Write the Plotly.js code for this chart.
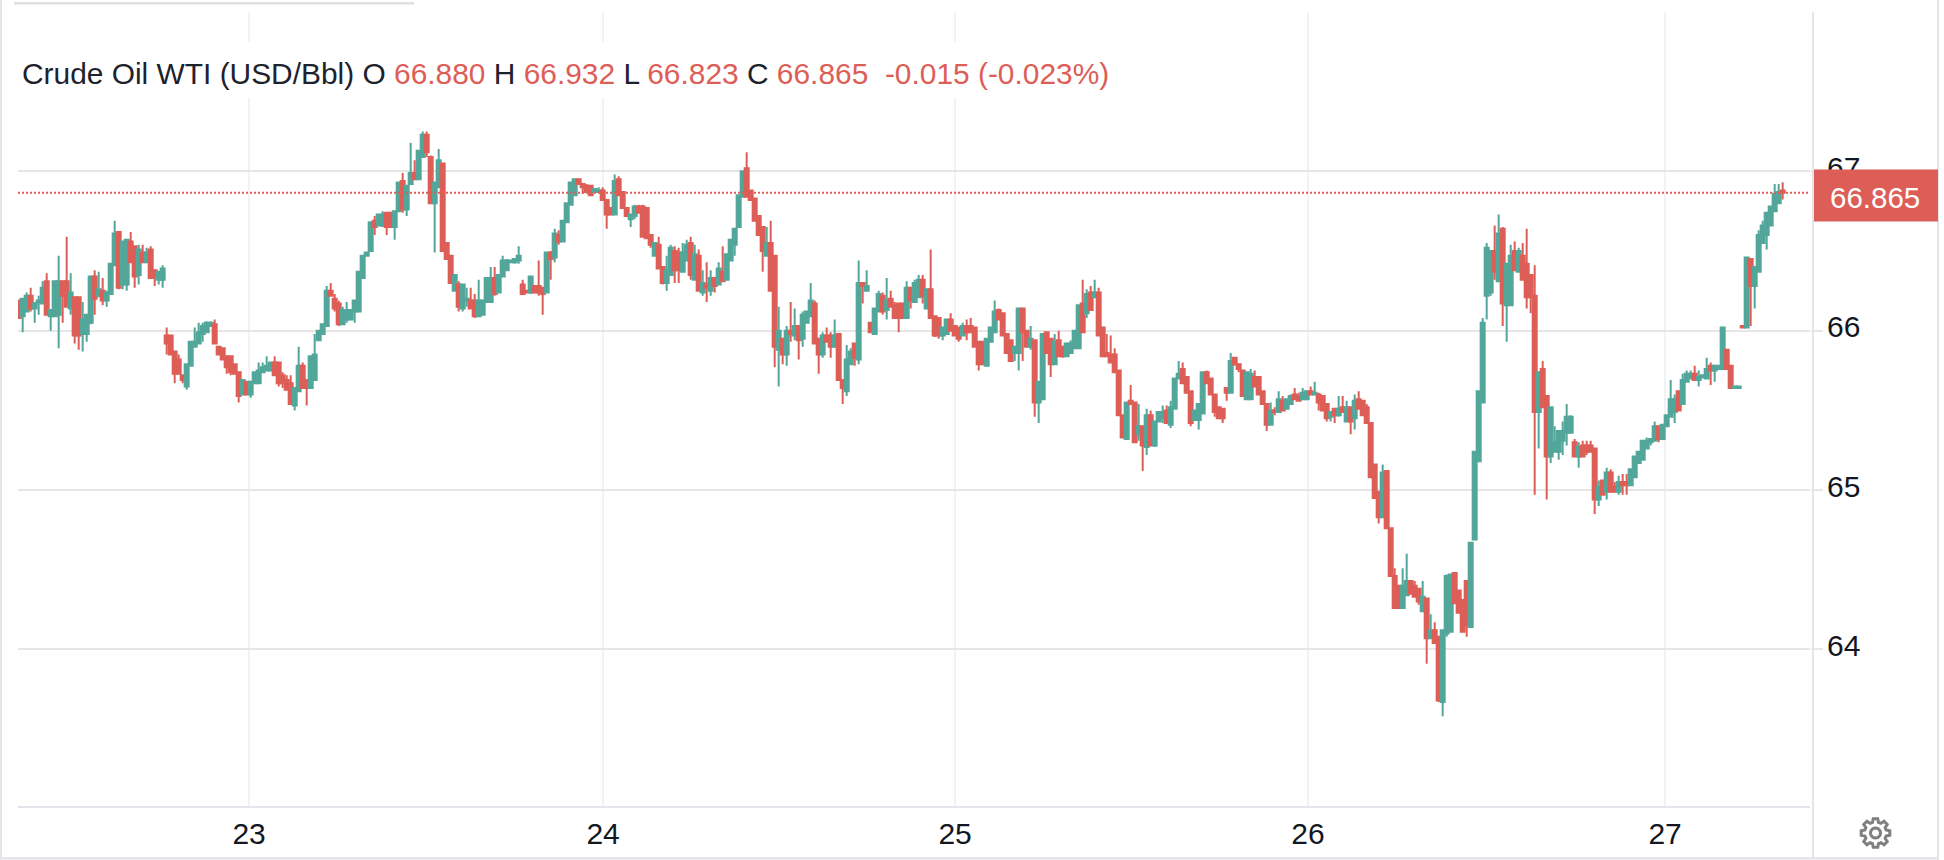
<!DOCTYPE html>
<html>
<head>
<meta charset="utf-8">
<title>Crude Oil WTI (USD/Bbl)</title>
<script src="https://cdn.plot.ly/plotly-3.0.1.min.js"></script>
<style>html,body{margin:0;padding:0;background:#fff;overflow:hidden}#chart{width:1944px;height:860px}</style>
</head>
<body>
<div id="chart"></div>
<script>
const opens = [
66.19,66.09,66.12,66.22,66.14,66.18,66.17,66.31,66.09,66.09,
66.10,66.31,66.31,66.14,66.21,66.21,65.98,65.98,66.05,66.34,
66.22,66.25,66.19,66.23,66.41,66.62,66.29,66.29,66.56,66.53,
66.35,66.49,66.43,66.51,66.38,66.32,66.32,65.97,65.97,65.87,
65.82,65.72,65.65,65.78,65.90,65.92,65.98,65.99,66.03,66.04,
65.90,65.89,65.84,65.84,65.79,65.74,65.60,65.68,65.60,65.67,
65.67,65.74,65.75,65.75,65.80,65.80,65.72,65.69,65.67,65.53,
65.62,65.78,65.69,65.64,65.69,
65.94,65.98,66.03,66.25,66.20,66.17,66.04,66.07,66.07,66.12,
66.12,66.33,66.47,66.50,66.69,66.66,66.66,66.74,66.74,66.65,
66.75,66.94,66.76,66.92,66.99,66.95,67.09,67.23,67.09,66.80,
66.90,67.05,66.55,66.47,66.25,66.29,66.14,66.19,66.19,66.19,
66.09,66.10,66.18,66.18,66.33,66.24,66.34,66.38,66.43,66.43,
66.44,66.29,66.25,66.24,66.28,66.28,66.27,66.24,66.49,66.46,
66.60,66.56,66.68,66.79,66.85,66.95,66.92,66.91,66.91,66.87,
66.87,66.88,66.82,66.77,66.73,
66.95,66.87,66.77,66.70,66.72,66.78,66.78,66.77,66.60,66.47,
66.54,66.40,66.30,66.35,66.50,66.49,66.37,66.44,66.55,66.32,
66.47,66.24,66.29,66.25,66.33,66.29,66.37,66.32,66.44,
66.54,66.65,66.84,67.02,66.88,66.83,66.72,66.65,66.47,
66.55,66.47,65.88,65.95,65.85,66.00,65.97,66.03,65.95,66.05,66.09,
66.17,65.95,65.85,65.97,65.97,65.90,65.98,65.69,65.62,65.79,
65.92,65.82,66.30,66.25,66.05,65.98,66.12,66.22,66.13,66.20,66.16,
66.17,66.17,66.08,66.27,66.18,
66.21,66.32,66.14,66.26,66.09,66.08,65.97,65.98,66.07,66.03,
66.02,65.97,66.03,66.03,66.02,65.93,65.93,65.78,65.93,65.99,
66.13,66.11,65.98,65.94,65.86,65.86,66.14,66.00,65.90,65.94,
65.55,65.57,65.99,65.95,65.79,65.94,65.90,65.84,65.86,65.89,
65.89,66.17,66.11,66.24,66.21,66.24,66.02,65.86,65.85,65.85,
65.75,65.47,65.32,65.56,65.55,65.35,65.40,65.27,65.47,65.28,
65.43,65.45,65.50,65.41,65.51,65.70,65.76,65.71,65.62,65.44,
65.44,65.48,65.74,65.70,65.60,
65.52,65.51,65.64,65.61,65.83,65.79,65.75,65.57,65.57,65.71,
65.71,65.62,65.54,65.41,65.50,65.49,65.56,65.51,65.54,65.60,
65.59,65.57,65.57,65.62,65.60,65.60,65.59,65.54,65.46,65.51,
65.47,65.52,65.43,65.52,65.45,65.57,65.56,65.52,65.42,65.16,
64.99,64.83,65.12,64.76,64.46,64.40,64.26,64.34,64.43,64.40,
64.38,64.24,64.32,64.07,64.12,64.08,63.67,64.10,64.11,64.48,
64.37,64.31,64.43,64.14,64.69,65.18,65.55,66.22,66.24,66.50,
66.31,66.64,66.16,66.16,66.50,
66.37,66.47,66.42,66.35,66.22,65.49,65.76,65.59,65.21,65.24,
65.24,65.31,65.36,65.36,65.30,65.21,65.28,65.28,65.28,65.26,
64.94,65.06,64.99,65.11,65.02,64.99,65.05,65.05,65.03,65.08,
65.17,65.19,65.26,65.30,65.31,65.40,65.32,65.40,65.46,65.49,
65.62,65.54,65.68,65.70,65.73,65.69,65.71,65.70,65.78,65.75,
65.76,65.76,65.88,65.78,65.64,65.64,66.03,66.02,66.45,66.28,
66.37,66.55,66.60,66.66,66.75,66.80,66.880];

const highs = [
66.19,66.20,66.24,66.27,66.18,66.22,66.31,66.36,66.13,66.31,
66.47,66.31,66.59,66.36,66.21,66.21,66.18,66.10,66.34,66.38,
66.37,66.33,66.25,66.42,66.69,66.62,66.56,66.57,66.62,66.53,
66.54,66.54,66.52,66.53,66.38,66.37,66.41,66.02,65.97,65.87,
65.85,65.72,65.79,65.93,66.02,66.05,66.05,66.06,66.06,66.07,
65.90,65.89,65.84,65.84,65.79,65.74,65.69,65.68,65.68,65.74,
65.80,65.80,65.84,65.80,65.84,65.80,65.74,65.72,65.72,65.64,
65.90,65.80,65.69,65.84,65.98,
66.00,66.04,66.28,66.30,66.23,66.19,66.15,66.18,66.13,66.19,
66.37,66.47,66.49,66.68,66.72,66.73,66.75,66.74,66.74,66.75,
66.93,66.99,66.91,67.18,67.07,67.13,67.25,67.25,67.10,66.93,
67.14,67.05,66.55,66.47,66.35,66.31,66.29,66.27,66.27,66.23,
66.32,66.19,66.33,66.40,66.40,66.35,66.47,66.45,66.44,66.45,
66.53,66.32,66.25,66.34,66.28,66.44,66.27,66.49,66.50,66.64,
66.63,66.69,66.80,66.93,66.95,66.95,66.92,66.92,66.91,66.89,
66.90,66.90,66.82,66.77,66.98,
66.97,66.87,66.77,66.73,66.79,66.79,66.79,66.77,66.60,66.55,
66.59,66.40,66.47,66.54,66.53,66.52,66.55,66.57,66.59,66.54,
66.51,66.38,66.43,66.38,66.33,66.43,66.53,66.48,66.57,
66.64,66.85,67.00,67.12,66.88,66.83,66.72,66.65,66.65,
66.69,66.47,66.15,65.95,66.03,66.18,66.14,66.03,66.12,66.12,66.30,
66.19,65.95,65.99,66.02,65.99,66.07,65.98,65.69,65.91,65.89,
65.92,66.44,66.30,66.38,66.05,66.14,66.25,66.24,66.33,66.25,66.18,
66.17,66.17,66.31,66.27,66.32,
66.35,66.35,66.26,66.51,66.09,66.08,66.02,66.07,66.11,66.03,
66.02,66.05,66.07,66.08,66.02,65.93,65.93,65.95,66.02,66.19,
66.14,66.11,65.98,65.94,65.90,66.14,66.14,66.00,66.03,65.94,
65.68,65.98,65.99,65.95,65.98,66.00,65.90,65.92,65.94,66.00,
66.16,66.32,66.26,66.28,66.32,66.27,66.02,65.98,65.97,65.89,
65.75,65.47,65.55,65.66,65.55,65.54,65.40,65.51,65.50,65.43,
65.49,65.53,65.53,65.56,65.70,65.81,65.80,65.71,65.62,65.50,
65.54,65.74,65.75,65.70,65.60,
65.52,65.51,65.64,65.86,65.83,65.79,65.75,65.74,65.76,65.75,
65.71,65.62,65.54,65.55,65.52,65.62,65.59,65.57,65.60,65.64,
65.61,65.64,65.62,65.65,65.68,65.61,65.59,65.54,65.49,65.51,
65.59,65.59,65.56,65.52,65.60,65.62,65.56,65.54,65.42,65.16,
64.99,65.16,65.12,64.76,64.51,64.40,64.51,64.60,64.43,64.43,
64.38,64.43,64.32,64.22,64.17,64.08,64.12,64.47,64.47,64.48,
64.37,64.31,64.43,64.67,65.24,65.62,66.08,66.55,66.50,66.66,
66.73,66.65,66.42,66.54,66.56,
66.52,66.55,66.64,66.35,66.41,65.74,65.81,65.59,65.52,65.40,
65.37,65.43,65.54,65.47,65.32,65.30,65.31,65.31,65.31,65.26,
65.06,65.06,65.14,65.13,65.05,65.09,65.10,65.10,65.13,65.21,
65.24,65.31,65.33,65.32,65.43,65.40,65.41,65.47,65.69,65.60,
65.62,65.73,65.75,65.75,65.78,65.75,65.72,65.83,65.80,65.78,
65.78,66.02,65.88,65.78,65.65,65.65,66.03,66.46,66.45,66.40,
66.63,66.69,66.74,66.78,66.92,66.92,66.932];

const lows = [
66.08,65.99,66.12,66.12,66.05,66.10,66.17,66.10,66.00,66.09,
65.89,66.05,66.15,66.10,65.92,65.88,65.87,65.93,66.04,66.10,
66.21,66.16,66.15,66.23,66.41,66.26,66.26,66.25,66.43,66.27,
66.29,66.43,66.43,66.33,66.28,66.29,66.27,65.85,65.85,65.67,
65.73,65.67,65.63,65.78,65.90,65.92,65.93,65.99,66.03,65.92,
65.85,65.82,65.73,65.72,65.73,65.55,65.60,65.60,65.58,65.67,
65.67,65.74,65.75,65.75,65.72,65.65,65.64,65.63,65.54,65.50,
65.62,65.64,65.53,65.64,65.69,
65.94,65.98,66.03,66.22,66.12,66.03,66.04,66.05,66.07,66.05,
66.12,66.33,66.47,66.50,66.60,66.66,66.65,66.60,66.65,66.57,
66.75,66.74,66.72,66.92,66.95,66.95,67.09,67.09,66.80,66.49,
66.90,66.50,66.45,66.30,66.25,66.12,66.12,66.15,66.14,66.08,
66.09,66.10,66.18,66.18,66.22,66.24,66.34,66.38,66.43,66.42,
66.42,66.23,66.24,66.23,66.24,66.22,66.10,66.24,66.32,66.43,
66.54,66.56,66.68,66.79,66.85,66.92,66.86,66.87,66.85,66.87,
66.87,66.82,66.64,66.73,66.73,
66.85,66.77,66.72,66.65,66.70,66.74,66.59,66.58,66.52,66.47,
66.39,66.29,66.25,66.35,66.30,66.30,66.37,66.44,66.32,66.32,
66.25,66.22,66.18,66.22,66.24,66.29,66.31,66.32,66.44,
66.47,66.65,66.84,66.84,66.82,66.69,66.60,66.37,66.47,
66.25,65.77,65.65,65.79,65.78,65.93,65.94,65.82,65.90,66.05,66.09,
65.92,65.73,65.83,65.93,65.83,65.90,65.69,65.54,65.59,65.79,
65.78,65.79,66.17,66.25,65.99,65.98,66.12,66.10,66.07,66.15,66.08,
65.99,66.08,66.08,66.14,66.18,
66.21,66.17,66.14,66.08,65.96,65.95,65.94,65.98,66.00,65.97,
65.93,65.97,65.94,65.99,65.90,65.75,65.79,65.78,65.93,65.99,
66.07,65.97,65.86,65.81,65.81,65.75,65.81,65.90,65.88,65.46,
65.42,65.57,65.86,65.71,65.79,65.84,65.83,65.84,65.86,65.89,
65.89,65.99,66.08,66.13,66.21,65.97,65.84,65.84,65.80,65.74,
65.47,65.33,65.32,65.54,65.30,65.31,65.12,65.22,65.28,65.27,
65.43,65.42,65.42,65.39,65.51,65.70,65.67,65.61,65.40,65.44,
65.38,65.48,65.67,65.60,65.46,
65.45,65.42,65.56,65.61,65.78,65.74,65.59,65.57,65.57,65.65,
65.60,65.54,65.37,65.41,65.47,65.49,65.50,65.51,65.54,65.57,
65.56,65.57,65.57,65.60,65.60,65.50,65.50,65.43,65.43,65.42,
65.46,65.49,65.43,65.35,65.38,65.51,65.47,65.42,65.08,64.95,
64.79,64.83,64.76,64.46,64.26,64.26,64.26,64.34,64.35,64.33,
64.28,64.24,63.91,64.07,64.04,63.67,63.58,64.08,64.11,64.29,
64.23,64.11,64.08,64.14,64.69,65.18,65.55,66.07,66.22,66.32,
66.31,66.03,65.93,66.16,66.38,
66.37,66.32,66.14,66.11,64.97,65.26,65.52,64.94,65.17,65.24,
65.19,65.22,65.28,65.36,65.21,65.14,65.21,65.22,65.24,64.85,
64.90,64.97,64.94,64.99,64.99,64.97,64.97,64.97,65.03,65.08,
65.17,65.19,65.26,65.28,65.31,65.30,65.32,65.40,65.46,65.42,
65.50,65.54,65.68,65.70,65.69,65.65,65.70,65.70,65.66,65.68,
65.76,65.76,65.76,65.64,65.64,65.64,66.02,66.02,66.03,66.14,
66.37,66.55,66.51,66.66,66.75,66.80,66.823];

const closes = [
66.08,66.20,66.22,66.14,66.17,66.19,66.27,66.10,66.13,66.31,
66.31,66.22,66.15,66.24,65.97,65.97,66.07,66.10,66.34,66.20,
66.26,66.19,66.24,66.42,66.61,66.27,66.56,66.57,66.43,66.34,
66.51,66.43,66.49,66.33,66.33,66.37,66.39,65.92,65.85,65.73,
65.73,65.69,65.79,65.93,65.93,65.99,66.03,66.05,66.05,65.92,
65.85,65.82,65.77,65.74,65.73,65.59,65.69,65.60,65.68,65.74,
65.75,65.77,65.78,65.80,65.72,65.67,65.67,65.63,65.54,65.64,
65.78,65.64,65.64,65.84,65.85,
66.00,66.04,66.25,66.22,66.14,66.04,66.13,66.13,66.13,66.19,
66.37,66.47,66.49,66.68,66.65,66.73,66.73,66.65,66.65,66.75,
66.93,66.76,66.91,66.99,66.95,67.13,67.23,67.12,66.80,66.93,
67.07,66.50,66.45,66.30,66.35,66.15,66.29,66.20,66.14,66.09,
66.19,66.19,66.33,66.33,66.23,66.35,66.44,66.44,66.44,66.45,
66.47,66.23,66.24,66.34,66.24,66.24,66.23,66.49,66.45,66.61,
66.56,66.69,66.80,66.93,66.95,66.92,66.90,66.87,66.85,66.89,
66.88,66.82,66.73,66.73,66.94,
66.85,66.77,66.72,66.73,66.78,66.74,66.59,66.58,66.54,66.55,
66.39,66.30,66.38,66.52,66.38,66.38,66.49,66.54,66.35,66.48,
66.25,66.30,66.27,66.33,66.28,66.39,66.31,66.48,66.57,
66.64,66.85,67.00,66.84,66.82,66.69,66.60,66.50,66.55,
66.25,65.90,66.00,65.85,66.00,65.98,66.03,65.94,66.10,66.12,66.19,
65.92,65.85,65.97,65.93,65.90,65.97,65.69,65.64,65.82,65.87,
65.83,66.30,66.28,66.28,65.99,66.14,66.23,66.12,66.19,66.15,66.08,
66.08,66.08,66.27,66.19,66.30,
66.32,66.22,66.26,66.08,65.97,65.97,66.02,66.07,66.00,65.97,
65.95,66.03,65.99,65.99,65.90,65.79,65.79,65.95,66.02,66.12,
66.07,65.97,65.86,65.81,65.90,66.14,65.99,65.90,65.95,65.55,
65.68,65.98,65.86,65.79,65.93,65.84,65.84,65.92,65.92,66.00,
66.16,65.99,66.23,66.13,66.24,65.97,65.84,65.84,65.80,65.74,
65.47,65.33,65.55,65.54,65.30,65.40,65.28,65.47,65.28,65.43,
65.49,65.49,65.42,65.52,65.70,65.73,65.67,65.61,65.42,65.50,
65.54,65.74,65.67,65.60,65.49,
65.45,65.45,65.61,65.81,65.79,65.76,65.59,65.74,65.73,65.65,
65.60,65.54,65.41,65.50,65.49,65.57,65.50,65.57,65.59,65.57,
65.56,65.61,65.62,65.60,65.61,65.55,65.50,65.45,65.49,65.47,
65.51,65.49,65.52,65.43,65.56,65.51,65.47,65.42,65.08,64.95,
64.83,65.11,64.76,64.46,64.26,64.26,64.40,64.43,64.35,64.33,
64.30,64.33,64.07,64.12,64.04,63.68,64.12,64.46,64.47,64.29,
64.23,64.11,64.15,64.67,65.24,65.62,66.05,66.52,66.50,66.37,
66.61,66.17,66.42,66.47,66.38,
66.50,66.32,66.21,66.21,65.49,65.74,65.52,65.21,65.52,65.30,
65.37,65.37,65.46,65.46,65.21,65.27,65.21,65.24,65.24,64.94,
65.02,64.97,65.11,64.99,64.99,65.05,65.03,65.03,65.13,65.21,
65.24,65.31,65.31,65.32,65.40,65.32,65.41,65.47,65.57,65.57,
65.50,65.69,65.73,65.73,65.69,65.71,65.72,65.76,65.75,65.78,
65.78,66.02,65.76,65.64,65.65,65.65,66.02,66.46,66.28,66.40,
66.60,66.66,66.74,66.78,66.86,66.87,66.865];

const dayTickSlots = [57.6, 146.1, 234.1, 322.3, 411.6];
const dayTickLabels = ['23', '24', '25', '26', '27'];
const priceTicks = [64, 65, 66, 67];
const lastPrice = 66.865;
const legendName = 'Crude Oil WTI (USD/Bbl)';
const legendValues = {O: '66.880', H: '66.932', L: '66.823', C: '66.865'};
const legendChange = '-0.015 (-0.023%)';

const UP = '#53a69a', DOWN = '#dd5e57', GRID_H = '#e6e6e6', GRID_V = '#eff3f6', FRAME = '#e4e4ea', INK = '#1e222d';
const W = 1944, H = 860, L = 18, R = 1810, T = 12, B = 807;
const px = X => (X - L) / (R - L), py = Y => (B - Y) / (B - T);
const slots = opens.map((_, i) => i);

// settings cog (interface decoration, not data)
function gearPath(rOut, rIn, teeth) {
  let d = '';
  const step = 2 * Math.PI / teeth;
  for (let i = 0; i < teeth; i++) {
    const a = i * step - step / 2;
    const pts = [[rIn, a + step * 0.15], [rOut, a + step * 0.3], [rOut, a + step * 0.7], [rIn, a + step * 0.85]];
    pts.forEach((p, j) => {
      const x = (p[0] * Math.cos(p[1])).toFixed(2), y = (p[0] * Math.sin(p[1])).toFixed(2);
      d += (i === 0 && j === 0 ? 'M' : 'L') + x + ' ' + y + ' ';
    });
  }
  return d + 'Z';
}
function circlePath(r) {
  let d = '';
  for (let i = 0; i < 24; i++) {
    const a = i * Math.PI / 12;
    d += (i ? 'L' : 'M') + (r * Math.cos(a)).toFixed(2) + ' ' + (r * Math.sin(a)).toFixed(2) + ' ';
  }
  return d + 'Z';
}

const rect = (X0, Y0, X1, Y1, color) => ({
  type: 'rect', xref: 'paper', yref: 'paper', layer: 'above',
  x0: px(X0), x1: px(X1), y0: py(Y0), y1: py(Y1),
  fillcolor: color, line: {width: 0}
});
const cog = path => ({
  type: 'path', xref: 'paper', yref: 'paper', layer: 'above',
  xsizemode: 'pixel', ysizemode: 'pixel', xanchor: px(1875.5), yanchor: py(833),
  path, line: {color: '#808080', width: 3}
});

const shapes = [
  rect(18, 42, 1116, 98, '#ffffff'),
  {type: 'line', xref: 'paper', yref: 'y', layer: 'above', x0: 0, x1: 1, y0: lastPrice, y1: lastPrice,
   line: {color: DOWN, width: 2, dash: '2px,2px'}},
  rect(14, 2, 414, 4.5, '#e0e0e0'),
  rect(0, 0, 2, 860, FRAME),
  rect(1937, 0, 1939, 860, FRAME),
  rect(0, 857, 1939, 859.5, FRAME),
  rect(1812, 12, 1814, 858, FRAME),
  rect(18, 806, 1810, 808, FRAME),
  rect(1814, 169.5, 1938, 221.5, DOWN),
  cog(gearPath(14.5, 11, 8)),
  cog(circlePath(5))
];

const red = s => `<span style="color:${DOWN}">${s}</span>`;
const legendText = `${legendName} O ${red(legendValues.O)} H ${red(legendValues.H)} L ${red(legendValues.L)} C ${red(legendValues.C)}&nbsp;&nbsp;${red(legendChange)}`;

const annotations = [
  {xref: 'paper', yref: 'paper', x: px(19.5), y: py(74), xanchor: 'left', yanchor: 'middle', showarrow: false,
   align: 'left', text: legendText, font: {family: '"Liberation Sans", Arial, sans-serif', size: 29.9, color: INK}},
  {xref: 'paper', yref: 'paper', x: px(1875), y: py(198), xanchor: 'center', yanchor: 'middle', showarrow: false,
   text: lastPrice.toFixed(3), font: {family: '"Liberation Sans", Arial, sans-serif', size: 29.5, color: '#ffffff'}}
];

const trace = {
  type: 'candlestick',
  x: slots, open: opens, high: highs, low: lows, close: closes,
  increasing: {line: {color: UP, width: 2}, fillcolor: UP},
  decreasing: {line: {color: DOWN, width: 2}, fillcolor: DOWN},
  whiskerwidth: 0,
  hoverinfo: 'none',
  showlegend: false
};

const tickFont = {family: '"Liberation Sans", Arial, sans-serif', size: 30, color: '#131722'};
const layout = {
  width: W, height: H,
  margin: {l: L, r: W - R, t: T, b: H - B, pad: 0},
  paper_bgcolor: '#ffffff', plot_bgcolor: '#ffffff',
  showlegend: false,
  boxgap: 0, boxgroupgap: 0,
  dragmode: false,
  xaxis: {
    type: 'linear', range: [-0.17, 447.83], fixedrange: true,
    rangeslider: {visible: false},
    tickmode: 'array', tickvals: dayTickSlots, ticktext: dayTickLabels,
    showgrid: true, gridcolor: GRID_V, gridwidth: 2, zeroline: false, showline: false,
    ticks: '', tickfont: tickFont, ticklabelstandoff: 6
  },
  yaxis: {
    side: 'right', range: [63.011, 68.0], fixedrange: true,
    tickmode: 'array', tickvals: priceTicks, ticktext: priceTicks.map(String),
    showgrid: true, gridcolor: GRID_H, gridwidth: 2, zeroline: false, showline: false,
    ticks: 'outside', ticklen: 12, tickwidth: 2, tickcolor: GRID_H,
    tickfont: tickFont, ticklabelstandoff: -2, ticklabelshift: -4
  },
  shapes, annotations
};

Plotly.newPlot('chart', [trace], layout, {displayModeBar: false, staticPlot: true, responsive: false});
</script>
</body>
</html>
